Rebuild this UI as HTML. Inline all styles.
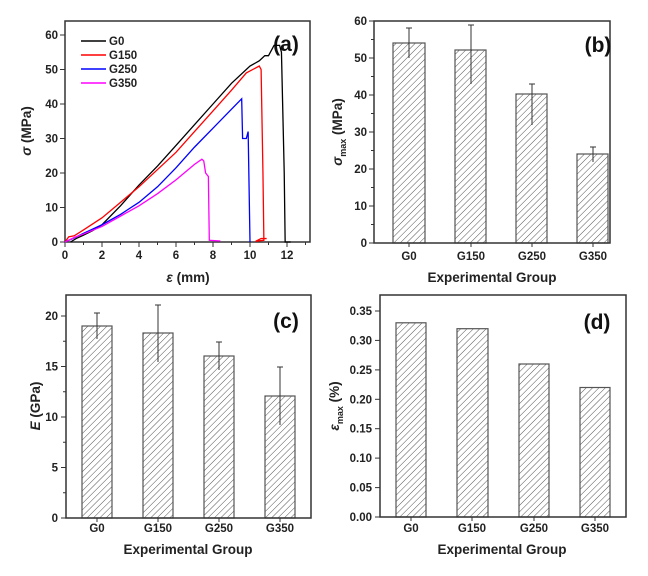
<!DOCTYPE html>
<html><head><meta charset="utf-8"><style>
html,body{margin:0;padding:0;background:#fff;}
svg{display:block;font-family:"Liberation Sans",Arial,sans-serif;}
.t{font-size:11.5px;font-weight:bold;fill:#222;}
.ti{font-size:13.5px;font-weight:bold;fill:#222;}
.lab{font-size:21px;font-weight:bold;fill:#111;}
.bar{fill:url(#h);stroke:#555;stroke-width:1.2;}
.err{stroke:#333;stroke-width:1;fill:none;}
.fr{fill:none;stroke:#333;stroke-width:1.5;}
.tk{stroke:#333;stroke-width:1;}
</style></head><body>
<svg width="648" height="576" viewBox="0 0 648 576">
<defs>
<pattern id="h" patternUnits="userSpaceOnUse" width="4.5" height="4.5" patternTransform="rotate(45)">
<rect width="4.5" height="4.5" fill="#fff"/>
<line x1="0" y1="0" x2="0" y2="4.5" stroke="#555" stroke-width="1"/>
</pattern>
</defs>

<!-- (a) -->
<g>
<rect class="fr" x="65" y="21" width="245" height="221"/>
<g class="tk">
<line x1="65" y1="242" x2="60" y2="242"/><line x1="65" y1="207.5" x2="60" y2="207.5"/><line x1="65" y1="173" x2="60" y2="173"/><line x1="65" y1="138.5" x2="60" y2="138.5"/><line x1="65" y1="104" x2="60" y2="104"/><line x1="65" y1="69.5" x2="60" y2="69.5"/><line x1="65" y1="35" x2="60" y2="35"/>
<line x1="65" y1="242" x2="65" y2="247"/><line x1="102" y1="242" x2="102" y2="247"/><line x1="139" y1="242" x2="139" y2="247"/><line x1="176" y1="242" x2="176" y2="247"/><line x1="213" y1="242" x2="213" y2="247"/><line x1="250" y1="242" x2="250" y2="247"/><line x1="287" y1="242" x2="287" y2="247"/>
<line x1="83.5" y1="242" x2="83.5" y2="245"/><line x1="120.5" y1="242" x2="120.5" y2="245"/><line x1="157.5" y1="242" x2="157.5" y2="245"/><line x1="194.5" y1="242" x2="194.5" y2="245"/><line x1="231.5" y1="242" x2="231.5" y2="245"/><line x1="268.5" y1="242" x2="268.5" y2="245"/><line x1="305.5" y1="242" x2="305.5" y2="245"/>
</g>
<g class="t" text-anchor="end">
<text x="58" y="246">0</text><text x="58" y="211.5">10</text><text x="58" y="177">20</text><text x="58" y="142.5">30</text><text x="58" y="108">40</text><text x="58" y="73.5">50</text><text x="58" y="39">60</text>
</g>
<g class="t" text-anchor="middle">
<text x="65" y="259">0</text><text x="102" y="259">2</text><text x="139" y="259">4</text><text x="176" y="259">6</text><text x="213" y="259">8</text><text x="250" y="259">10</text><text x="287" y="259">12</text>
</g>
<text class="ti" x="188" y="282" text-anchor="middle"><tspan font-style="italic">ε</tspan> (mm)</text>
<text class="ti" transform="translate(31,131) rotate(-90)" text-anchor="middle"><tspan font-style="italic">σ</tspan> (MPa)</text>
<text class="lab" x="286" y="51" text-anchor="middle">(a)</text>
<g transform="translate(65,242) scale(18.5,-3.45)" fill="none" stroke-width="1.3">
<polyline vector-effect="non-scaling-stroke" stroke="#000" points="0.3,0 0.6,1 1,2 1.5,3.3 2,5 3,10.5 4,16.5 5,22 6,28 7,34 8,40 9,46 10,51 10.5,52.5 10.8,54 11,54 11.3,57 11.6,57 11.7,55 11.85,20 11.9,0 12.2,0"/>
<polyline vector-effect="non-scaling-stroke" stroke="#f00" points="0,0 0.2,1.5 0.5,1.8 1,3.5 2,7 3,11.5 4,16 5,21 6,26 7,32 8,38 9,44 9.8,49 10.5,51 10.6,50 10.7,20 10.75,0.5 10.3,0.2 10.6,1 10.9,1"/>
<polyline vector-effect="non-scaling-stroke" stroke="#00f" points="0,0 0.5,1.2 1,2.5 2,5 3,8 4,11.5 5,16 6,21.5 7,27.5 8,33 9,38.5 9.55,41.5 9.6,30 9.8,30 9.9,32 10,0"/>
<polyline vector-effect="non-scaling-stroke" stroke="#f0f" points="0,0 0.5,1.3 1,2.3 2,4.5 3,7.5 4,10.5 5,14 6,18 7,22.5 7.4,24 7.5,23.5 7.6,20 7.75,19 7.8,0.5 8.4,0.3"/>
</g>
<g stroke-width="1.5">
<line x1="81" y1="41" x2="106" y2="41" stroke="#000"/>
<line x1="81" y1="55" x2="106" y2="55" stroke="#f00"/>
<line x1="81" y1="69" x2="106" y2="69" stroke="#00f"/>
<line x1="81" y1="83" x2="106" y2="83" stroke="#f0f"/>
</g>
<g class="t" font-size="12">
<text x="109" y="45">G0</text><text x="109" y="59">G150</text><text x="109" y="73">G250</text><text x="109" y="87">G350</text>
</g>
</g>

<!-- (b) -->
<g>
<g class="tk">
<line x1="374" y1="243" x2="369" y2="243"/><line x1="374" y1="206" x2="369" y2="206"/><line x1="374" y1="169" x2="369" y2="169"/><line x1="374" y1="132" x2="369" y2="132"/><line x1="374" y1="95" x2="369" y2="95"/><line x1="374" y1="58" x2="369" y2="58"/><line x1="374" y1="21" x2="369" y2="21"/>
<line x1="374" y1="224.5" x2="371" y2="224.5"/><line x1="374" y1="187.5" x2="371" y2="187.5"/><line x1="374" y1="150.5" x2="371" y2="150.5"/><line x1="374" y1="113.5" x2="371" y2="113.5"/><line x1="374" y1="76.5" x2="371" y2="76.5"/><line x1="374" y1="39.5" x2="371" y2="39.5"/>
<line x1="409" y1="243" x2="409" y2="247"/><line x1="471" y1="243" x2="471" y2="247"/><line x1="532" y1="243" x2="532" y2="247"/><line x1="593" y1="243" x2="593" y2="247"/>
</g>
<rect class="bar" x="393" y="43" width="32" height="200"/>
<rect class="bar" x="455" y="50" width="31" height="193"/>
<rect class="bar" x="516" y="94" width="31" height="149"/>
<rect class="bar" x="577" y="154" width="31" height="89"/>
<path class="err" d="M409,28V58M406,28H412 M471,25V84M468,25H474 M532,84V125M529,84H535 M593,147V162M590,147H596"/>
<rect class="fr" x="374" y="21" width="236" height="222"/>
<g class="t" text-anchor="end">
<text x="367" y="247">0</text><text x="367" y="210">10</text><text x="367" y="173">20</text><text x="367" y="136">30</text><text x="367" y="99">40</text><text x="367" y="62">50</text><text x="367" y="25">60</text>
</g>
<g class="t" text-anchor="middle">
<text x="409" y="260">G0</text><text x="471" y="260">G150</text><text x="532" y="260">G250</text><text x="593" y="260">G350</text>
</g>
<text class="ti" x="492" y="282" text-anchor="middle">Experimental Group</text>
<text class="ti" transform="translate(342,132) rotate(-90)" text-anchor="middle"><tspan font-style="italic">σ</tspan><tspan font-size="9" dy="4">max</tspan><tspan dy="-4"> (MPa)</tspan></text>
<text class="lab" x="598" y="52" text-anchor="middle">(b)</text>
</g>

<!-- (c) -->
<g>
<g class="tk">
<line x1="66" y1="518" x2="61" y2="518"/><line x1="66" y1="467.5" x2="61" y2="467.5"/><line x1="66" y1="417" x2="61" y2="417"/><line x1="66" y1="366.5" x2="61" y2="366.5"/><line x1="66" y1="316" x2="61" y2="316"/>
<line x1="66" y1="492.75" x2="63" y2="492.75"/><line x1="66" y1="442.25" x2="63" y2="442.25"/><line x1="66" y1="391.75" x2="63" y2="391.75"/><line x1="66" y1="341.25" x2="63" y2="341.25"/>
<line x1="97" y1="518" x2="97" y2="522"/><line x1="158" y1="518" x2="158" y2="522"/><line x1="219" y1="518" x2="219" y2="522"/><line x1="280" y1="518" x2="280" y2="522"/>
</g>
<rect class="bar" x="82" y="326" width="30" height="192"/>
<rect class="bar" x="143" y="333" width="30" height="185"/>
<rect class="bar" x="204" y="356" width="30" height="162"/>
<rect class="bar" x="265" y="396" width="30" height="122"/>
<path class="err" d="M97,313V339M94,313H100 M158,305V362M155,305H161 M219,342V370M216,342H222 M280,367V425M277,367H283"/>
<rect class="fr" x="66" y="295" width="245" height="223"/>
<g class="t" text-anchor="end">
<text x="58" y="522">0</text><text x="58" y="471.5">5</text><text x="58" y="421">10</text><text x="58" y="370.5">15</text><text x="58" y="320">20</text>
</g>
<g class="t" text-anchor="middle">
<text x="97" y="532">G0</text><text x="158" y="532">G150</text><text x="219" y="532">G250</text><text x="280" y="532">G350</text>
</g>
<text class="ti" x="188" y="554" text-anchor="middle">Experimental Group</text>
<text class="ti" transform="translate(40,406) rotate(-90)" text-anchor="middle"><tspan font-style="italic">E</tspan> (GPa)</text>
<text class="lab" x="286" y="328" text-anchor="middle">(c)</text>
</g>

<!-- (d) -->
<g>
<g class="tk">
<line x1="380" y1="517" x2="375" y2="517"/><line x1="380" y1="487.6" x2="375" y2="487.6"/><line x1="380" y1="458.1" x2="375" y2="458.1"/><line x1="380" y1="428.7" x2="375" y2="428.7"/><line x1="380" y1="399.3" x2="375" y2="399.3"/><line x1="380" y1="369.9" x2="375" y2="369.9"/><line x1="380" y1="340.4" x2="375" y2="340.4"/><line x1="380" y1="311" x2="375" y2="311"/>
<line x1="411" y1="517" x2="411" y2="521"/><line x1="472" y1="517" x2="472" y2="521"/><line x1="534" y1="517" x2="534" y2="521"/><line x1="595" y1="517" x2="595" y2="521"/>
</g>
<rect class="bar" x="396" y="322.8" width="30" height="194.2"/>
<rect class="bar" x="457" y="328.7" width="31" height="188.3"/>
<rect class="bar" x="519" y="364" width="30" height="153"/>
<rect class="bar" x="580" y="387.5" width="30" height="129.5"/>
<rect class="fr" x="380" y="295" width="246" height="222"/>
<g class="t" text-anchor="end">
<text x="372" y="521">0.00</text><text x="372" y="491.6">0.05</text><text x="372" y="462.1">0.10</text><text x="372" y="432.7">0.15</text><text x="372" y="403.3">0.20</text><text x="372" y="373.9">0.25</text><text x="372" y="344.4">0.30</text><text x="372" y="315">0.35</text>
</g>
<g class="t" text-anchor="middle">
<text x="411" y="532">G0</text><text x="472" y="532">G150</text><text x="534" y="532">G250</text><text x="595" y="532">G350</text>
</g>
<text class="ti" x="502" y="554" text-anchor="middle">Experimental Group</text>
<text class="ti" transform="translate(339,406) rotate(-90)" text-anchor="middle"><tspan font-style="italic">ε</tspan><tspan font-size="9" dy="4">max</tspan><tspan dy="-4"> (%)</tspan></text>
<text class="lab" x="597" y="329" text-anchor="middle">(d)</text>
</g>
</svg>
</body></html>
